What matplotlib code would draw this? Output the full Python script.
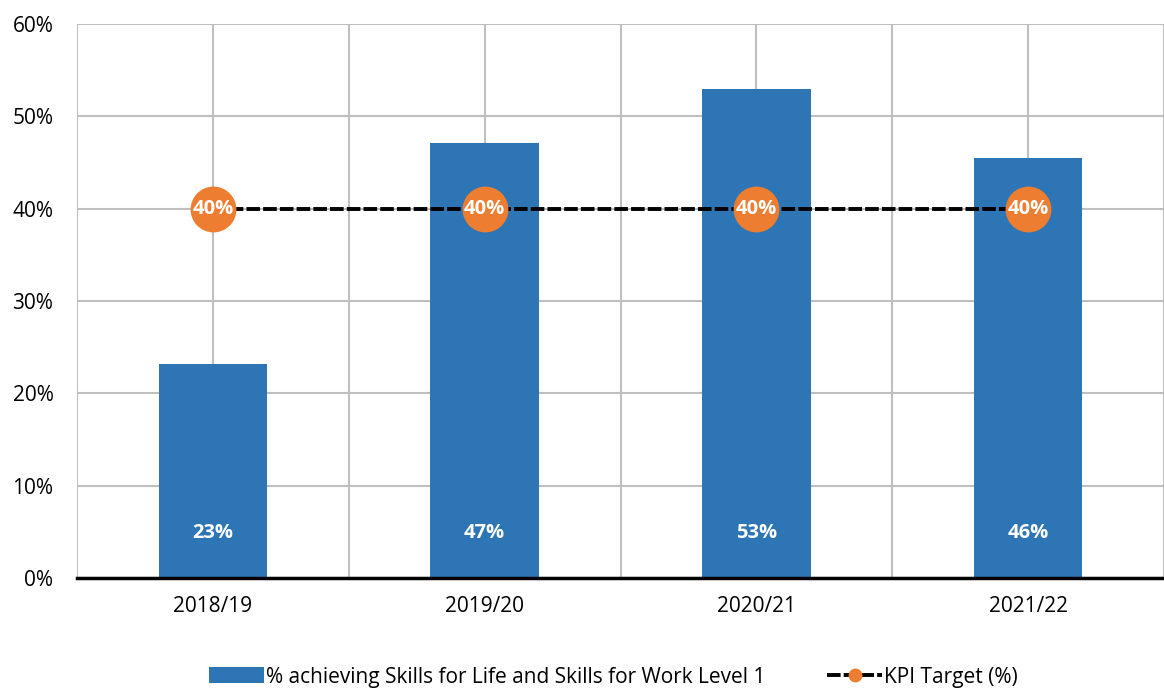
import numpy as np
import matplotlib as mpl
mpl.use('Agg')
import matplotlib.pyplot as plt
from matplotlib.lines import Line2D
from matplotlib.patches import Patch

years = ['2018/19', '2019/20', '2020/21', '2021/22']
achieving = [23.2, 47.1, 53.0, 45.5]
achieving_lbl = ['23%', '47%', '53%', '46%']
kpi_target = [40, 40, 40, 40]

clr_bar = '#2E75B6'
clr_kpi = '#ED7D31'
clr_grid = '#BFBFBF'

plt.rcParams['font.family'] = ['Open Sans', 'DejaVu Sans']

fig = plt.figure(figsize=(11.64, 6.88), dpi=100, facecolor='w')
ax = fig.add_axes([77/1164., 1 - 578/688., 1 - 77/1164., (578 - 24)/688.])

x = np.arange(len(years))
ax.bar(x, achieving, width=0.40, color=clr_bar, zorder=3)
for xi, lb in zip(x, achieving_lbl):
    ax.text(xi, 4.9, lb, ha='center', va='center', color='w', fontsize=14.5, fontweight='bold', zorder=5)

ax.plot(x, kpi_target, color='k', lw=2.8, ls=(0, (3.5, 0.8)), zorder=4)
ax.plot(x, kpi_target, 'o', color=clr_kpi, ms=33, mec='none', zorder=6)
for xi, v in zip(x, kpi_target):
    ax.text(xi, v, '%d%%' % v, ha='center', va='center', color='w', fontsize=14.5, fontweight='bold', zorder=7)

ax.set_xlim(-0.5, len(years) - 0.5)
ax.set_ylim(0, 60)
ax.set_yticks(np.arange(0, 61, 10))
ax.set_yticklabels(['%d%%' % v for v in range(0, 61, 10)])
ax.set_xticks(x)
ax.set_xticklabels(years)
ax.set_xticks(np.arange(-0.5, len(years), 1.0), minor=True)
ax.tick_params(axis='both', which='both', length=0, labelsize=15)
ax.tick_params(axis='x', pad=13)
ax.tick_params(axis='y', pad=17)

ax.grid(axis='y', color=clr_grid, lw=1.5, zorder=0)
ax.grid(axis='x', which='both', color=clr_grid, lw=1.5, zorder=0)
for s in ['top', 'right', 'left']:
    ax.spines[s].set_visible(False)
ax.spines['bottom'].set_color('k')
ax.spines['bottom'].set_linewidth(2.5)
ax.spines['bottom'].set_zorder(8)

h1 = Patch(facecolor=clr_bar, edgecolor='none')
h2 = Line2D([0], [0], color='k', lw=2.8, ls=(0, (3.5, 0.8)), marker='o', ms=10, mfc=clr_kpi, mec='none')
fig.legend([h1, h2], ['% achieving Skills for Life and Skills for Work Level 1', 'KPI Target (%)'],
           loc='center', bbox_to_anchor=(0.527, 1 - 677/688.), ncol=2, frameon=False, fontsize=15,
           handlelength=2.6, handletextpad=0.1, columnspacing=3.0, handleheight=0.8)

plt.savefig('out.png', dpi=100, facecolor='w')
